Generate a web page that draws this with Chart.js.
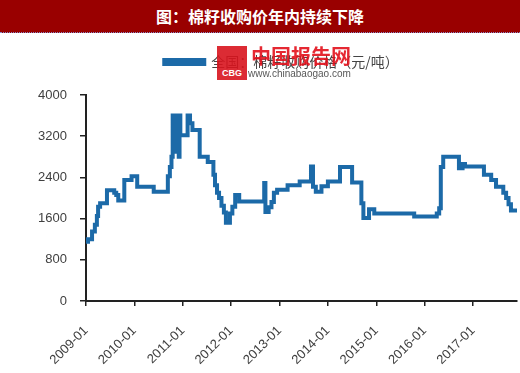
<!DOCTYPE html>
<html>
<head>
<meta charset="utf-8">
<script src="https://cdn.jsdelivr.net/npm/chart.js@4.4.1/dist/chart.umd.min.js"></script>
<style>
    body { margin: 0; width: 520px; height: 373px; background: #fff; position: relative; overflow: hidden; }
    .title-bar {
        position: absolute; left: 0; top: 0; width: 520px; height: 32px;
        background: #990000; color: #fff; text-align: center;
        font: bold 16px "Noto Sans CJK SC", sans-serif; line-height: 32px;
        border-bottom: 1px dotted #8a8ac8;
    }
    #wrap { position: absolute; left: 0; top: 34px; width: 520px; height: 339px; }
    .mark { position: absolute; left: 217px; top: 44px; opacity: 0.9; }
    .mark .logo {
        position: absolute; left: 0; top: 2px; width: 30px; height: 34px; background: #d8141e;
        color: #fff; font: bold 9px "Liberation Sans", sans-serif; text-align: center;
        line-height: 12px; box-sizing: border-box; padding-top: 21px;
    }
    .mark .cn { position: absolute; left: 34px; top: 0; color: #e3101b; font: bold 20px "Noto Sans CJK SC", sans-serif; white-space: nowrap; line-height: 24px; }
    .mark .url { position: absolute; left: 31px; top: 24px; color: #444; font: 10px "Liberation Sans", sans-serif; white-space: nowrap; }
</style>
</head>
<body>
<div class="title-bar">图：棉籽收购价年内持续下降</div>
<div id="wrap"><canvas id="cottonChart" width="520" height="339"></canvas></div>
<div class="mark">
    <div class="logo">CBG</div>
    <div class="cn">中国报告网</div>
    <div class="url">www.chinabaogao.com</div>
</div>
<script>
// price change dates (value holds until the next date)
const dates = [
    '2009-01-01', '2009-01-16', '2009-02-16', '2009-03-07', '2009-03-22', '2009-04-01', '2009-04-16',
    '2009-06-07', '2009-08-01', '2009-08-16', '2009-09-01', '2009-10-16', '2009-12-10',
    '2010-01-22', '2010-05-25', '2010-09-10', '2010-09-25', '2010-10-07', '2010-10-16', '2010-10-25',
    '2010-11-04', '2010-11-13', '2010-11-22', '2010-12-01', '2010-12-07', '2010-12-13',
    '2011-02-07', '2011-02-25', '2011-03-13', '2011-05-07', '2011-07-07', '2011-08-19', '2011-09-01',
    '2011-09-16', '2011-10-01', '2011-10-19', '2011-11-07', '2011-11-22', '2011-12-22',
    '2012-01-10', '2012-02-01', '2012-03-01', '2012-09-07', '2012-09-16', '2012-10-10', '2012-11-01',
    '2012-11-19', '2012-12-13', '2013-03-01', '2013-06-01', '2013-08-25', '2013-09-10', '2013-10-01',
    '2013-11-13', '2014-01-01', '2014-04-01', '2014-07-01', '2014-09-10', '2014-09-25', '2014-11-07',
    '2014-12-16', '2015-10-13', '2016-04-01', '2016-04-19', '2016-05-01', '2016-05-19', '2016-09-16',
    '2016-10-13', '2016-11-01', '2017-03-22', '2017-05-16', '2017-06-22', '2017-08-16', '2017-09-07',
    '2017-09-25', '2017-10-13', '2017-11-28'
];
const prices = [
    1150, 1200, 1350, 1480, 1650, 1830, 1900,
    2150, 2100, 2060, 1950, 2350, 2420,
    2220, 2120, 2420, 2600, 2800, 3600, 2900,
    3600, 3000, 3600, 2800, 3600, 3220,
    3600, 3450, 3320, 2800, 2700, 2450, 2250,
    2100, 2000, 1850, 1720, 1520, 1700,
    1830, 2060, 1930, 2290, 1730, 1820, 1920,
    2100, 2160, 2250, 2320, 2610, 2220, 2120,
    2230, 2320, 2600, 2300, 1900, 1610, 1780,
    1700, 1640, 1700, 1800, 2600, 2800, 2580,
    2660, 2610, 2450, 2350, 2220, 2100, 2000,
    1880, 1755, 1755
];
const startYear = 2009;
const yTicks = [0, 800, 1600, 2400, 3200, 4000];
const seriesName = '全国：棉籽收购价格（元/吨）';

// months since 2009-01
const toMonth = (s) => {
    const [y, m, d] = s.split('-').map(Number);
    return (y - startYear) * 12 + (m - 1) + (d - 1) / 30;
};
const points = dates.map((d, i) => ({ x: toMonth(d), y: prices[i] }));

const tickFont = { family: '"Liberation Sans", Arial, sans-serif', size: 13 };

// legend: taller box, shifted right like the original
const legendSpace = {
    id: 'legendSpace',
    beforeInit(chart) {
        const fit = chart.legend.fit;
        chart.legend.fit = function () {
            fit.call(this);
            this.height = 61;
        };
    },
    afterLayout(chart) {
        chart.legend.left = 46;
    }
};

new Chart(document.getElementById('cottonChart'), {
    type: 'line',
    data: {
        datasets: [{
            label: seriesName,
            data: points,
            borderColor: '#1c6aa8',
            backgroundColor: '#1c6aa8',
            borderWidth: 4,
            pointRadius: 0,
            stepped: true,
            fill: false
        }]
    },
    options: {
        responsive: false,
        animation: false,
        layout: { padding: { left: 0, right: 3, top: 0, bottom: 0 } },
        plugins: {
            legend: {
                position: 'top',
                labels: {
                    boxWidth: 40,
                    boxHeight: 4,
                    padding: 21,
                    color: '#444',
                    font: { family: '"Noto Sans CJK SC", sans-serif', size: 14 }
                }
            },
            tooltip: { enabled: false }
        },
        scales: {
            x: {
                type: 'linear',
                min: 0,
                max: toMonth(dates[dates.length - 1]),
                afterFit: (s) => { s.height = 72; },
                border: { display: true, color: '#222', width: 2 },
                grid: { display: true, drawOnChartArea: false, drawTicks: true, tickLength: 5, color: '#222', lineWidth: 1.5 },
                ticks: {
                    stepSize: 12,
                    includeBounds: false,
                    autoSkip: false,
                    maxRotation: 45,
                    minRotation: 45,
                    padding: 17,
                    color: '#404040',
                    font: tickFont,
                    callback: (v) => (v % 12 === 0 ? `${startYear + v / 12}-01` : '')
                }
            },
            y: {
                min: 0,
                max: 4000,
                afterFit: (s) => { s.width = 86; },
                afterBuildTicks: (s) => { s.ticks = yTicks.map(v => ({ value: v })); },
                border: { display: true, color: '#222', width: 2 },
                grid: { display: true, drawOnChartArea: false, drawTicks: true, tickLength: 6, color: '#222', lineWidth: 1.5 },
                ticks: {
                    padding: 13,
                    color: '#404040',
                    font: tickFont,
                    callback: (v) => String(v)
                }
            }
        }
    },
    plugins: [legendSpace]
});
</script>
</body>
</html>
